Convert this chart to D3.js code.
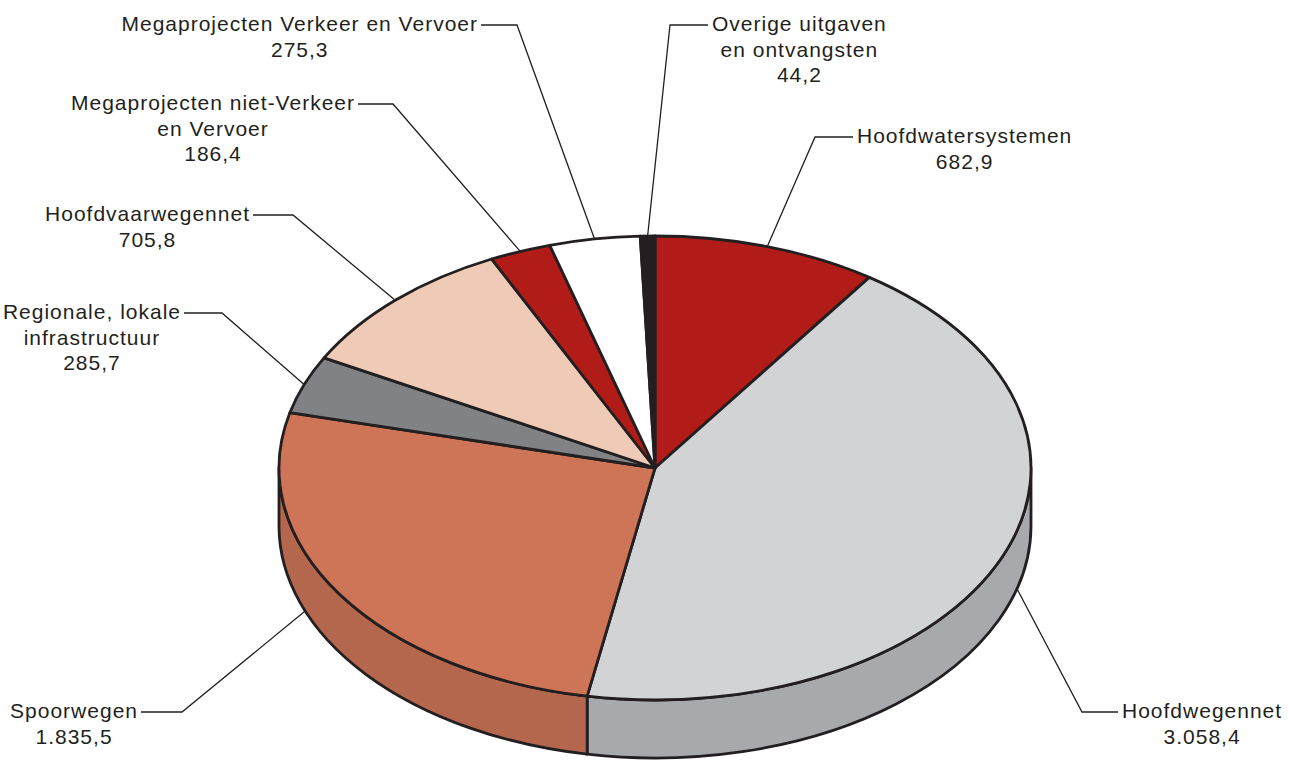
<!DOCTYPE html>
<html>
<head>
<meta charset="utf-8">
<script src="https://cdn.jsdelivr.net/npm/d3@7"></script>
<style>
  html, body { margin: 0; padding: 0; background: #fff; }
  svg { display: block; }
  .lbl { font-family: "Liberation Sans", Arial, sans-serif; font-size: 21px; letter-spacing: 1px; fill: #231f20; }
</style>
</head>
<body>
<svg id="chart" width="1289" height="760"></svg>
<script>
// slices, clockwise from 12 o'clock
var categories = [
  'Hoofdwatersystemen',
  'Hoofdwegennet',
  'Spoorwegen',
  'Regionale, lokale infrastructuur',
  'Hoofdvaarwegennet',
  'Megaprojecten niet-Verkeer en Vervoer',
  'Megaprojecten Verkeer en Vervoer',
  'Overige uitgaven en ontvangsten'
];
var values = [682.9, 3058.4, 1835.5, 285.7, 705.8, 186.4, 275.3, 44.2];
var labelLines = [
  ['Hoofdwatersystemen'],
  ['Hoofdwegennet'],
  ['Spoorwegen'],
  ['Regionale, lokale', 'infrastructuur'],
  ['Hoofdvaarwegennet'],
  ['Megaprojecten niet-Verkeer', 'en Vervoer'],
  ['Megaprojecten Verkeer en Vervoer'],
  ['Overige uitgaven', 'en ontvangsten']
];

// styles
var topColors  = ['#b11c18', '#d1d3d4', '#ce7457', '#808285', '#eecab7', '#b11c18', '#ffffff', '#231f20'];
var sideColors = ['#8e1613', '#a7a9ac', '#b5674d', '#66686a', '#d4b3a2', '#8e1613', '#e0e0e0', '#111111'];

// label placement: text anchor, elbow of leader, optional angle (deg) / drop on the pie
var labelLayout = [
  {side: 'start', x: 857,  y: 143, elbow: 815},
  {side: 'start', x: 1122, y: 718, elbow: 1082, at: 105.7, drop: 1},
  {side: 'end',   x: 138,  y: 718, elbow: 182,  at: 248.5, drop: 1},
  {side: 'end',   x: 181,  y: 319, elbow: 222},
  {side: 'end',   x: 250,  y: 221, elbow: 293},
  {side: 'end',   x: 355,  y: 110, elbow: 393},
  {side: 'end',   x: 478,  y: 31,  elbow: 517},
  {side: 'start', x: 712,  y: 31,  elbow: 670}
];

var cx = 655, cy = 468, rx = 376, ry = 232, depth = 58;
var lineGap = 25.5;
var ink = '#231f20';

var nl = d3.formatLocale({decimal: ',', thousands: '.', grouping: [3], currency: ['', '']});
var fmt = nl.format(',.1f');

var svg = d3.select('#chart');

var pie = d3.pie().sort(null).value(function(d) { return d; });
var arcs = pie(values);

function pt(a, dy) {
  return [cx + rx * Math.sin(a), cy - ry * Math.cos(a) + (dy || 0)];
}

function topPath(d) {
  var p0 = pt(d.startAngle), p1 = pt(d.endAngle);
  var large = (d.endAngle - d.startAngle) > Math.PI ? 1 : 0;
  return 'M' + cx + ',' + cy + 'L' + p0 + 'A' + rx + ',' + ry + ' 0 ' + large + ' 1 ' + p1 + 'Z';
}

// visible part of the side wall: angles between 90 and 270 degrees
function sidePath(d) {
  var a0 = Math.max(d.startAngle, Math.PI / 2),
      a1 = Math.min(d.endAngle, 3 * Math.PI / 2);
  if (a1 <= a0) return null;
  var t0 = pt(a0), t1 = pt(a1), b0 = pt(a0, depth), b1 = pt(a1, depth);
  return 'M' + t0 + 'A' + rx + ',' + ry + ' 0 0 1 ' + t1 +
         'L' + b1 + 'A' + rx + ',' + ry + ' 0 0 0 ' + b0 + 'Z';
}

svg.append('g').attr('id', 'sides')
  .selectAll('path')
  .data(arcs.filter(function(d) { return sidePath(d); }))
  .enter()
    .append('path')
    .attr('d', sidePath)
    .attr('fill', function(d) { return sideColors[d.index]; })
    .attr('stroke', ink)
    .attr('stroke-width', 2.8)
    .attr('stroke-linejoin', 'round');

svg.append('g').attr('id', 'tops')
  .selectAll('path')
  .data(arcs)
  .enter()
    .append('path')
    .attr('d', topPath)
    .attr('fill', function(d) { return topColors[d.index]; })
    .attr('stroke', ink)
    .attr('stroke-width', 2.8)
    .attr('stroke-linejoin', 'round');

// labels and leader lines
var gLab = svg.append('g').attr('id', 'labels');

arcs.forEach(function(d, i) {
  var L = labelLayout[i];
  var a = L.at != null ? L.at * Math.PI / 180 : (d.startAngle + d.endAngle) / 2;
  var end = pt(a, (L.drop || 0) * depth);
  var ly = L.y - 6;
  var tx = L.side === 'end' ? L.x + 3 : L.x - 4;

  gLab.append('path')
    .attr('d', 'M' + tx + ',' + ly + 'L' + L.elbow + ',' + ly + 'L' + end)
    .attr('fill', 'none')
    .attr('stroke', ink)
    .attr('stroke-width', 1.3);

  var first = gLab.append('text')
    .attr('class', 'lbl')
    .attr('x', L.x)
    .attr('y', L.y)
    .attr('text-anchor', L.side)
    .text(labelLines[i][0]);

  var bb = first.node().getBBox();
  var mid = bb.x + bb.width / 2;
  var rest = labelLines[i].slice(1).concat([fmt(values[i])]);
  rest.forEach(function(s, k) {
    gLab.append('text')
      .attr('class', 'lbl')
      .attr('x', mid)
      .attr('y', L.y + (k + 1) * lineGap)
      .attr('text-anchor', 'middle')
      .text(s);
  });
});
</script>
</body>
</html>
